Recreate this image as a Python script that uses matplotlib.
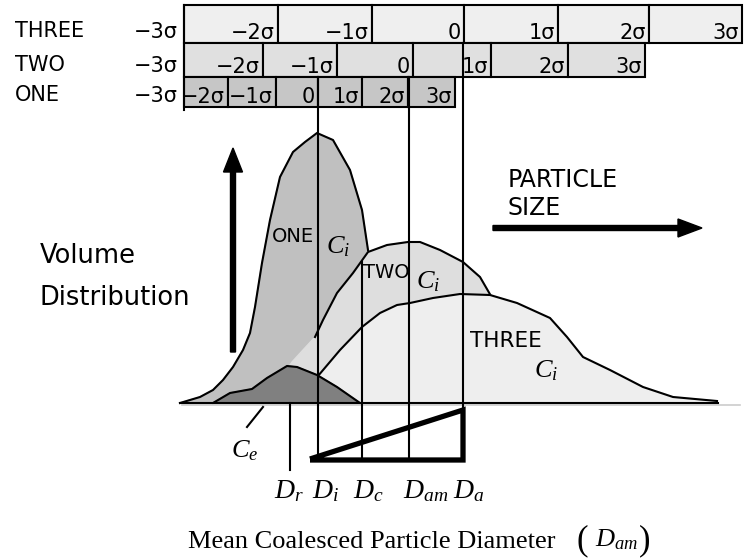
import numpy as np
import matplotlib
matplotlib.use("Agg")
import matplotlib.pyplot as plt

plt.rcParams['font.family'] = ['DejaVu Sans']
plt.rcParams['mathtext.fontset'] = 'custom'
plt.rcParams['mathtext.rm'] = 'Liberation Serif'
plt.rcParams['mathtext.it'] = 'Liberation Serif:italic'

# sigma scales, one row per distribution (cell edges run -3s .. 3s)
row_names = ['THREE', 'TWO', 'ONE']
row_edges = [
    [184, 278, 372, 464, 558, 649, 742],
    [184, 263, 337, 413, 491, 568, 645],
    [184, 228, 276, 318, 362, 408, 455],
]
row_top = [5, 43, 77]
row_bottom = [43, 77, 107]
row_colors = ['#efefef', '#e0e0e0', '#c6c6c6']
sigma_labels = ['\u22122\u03c3', '\u22121\u03c3', '0', '1\u03c3', '2\u03c3', '3\u03c3']

# volume distribution curves (diagram units, y grows downward)
base_y = 403
one_x = [180, 200, 213, 223, 233, 243, 250, 255, 262, 270, 280, 293, 305, 317,
         333, 350, 362, 368, 378, 388, 398]
one_y = [403, 397, 390, 380, 367, 350, 333, 307, 263, 220, 177, 152, 142, 133,
         140, 170, 210, 250, 300, 360, 403]
two_x = [262, 280, 292, 303, 315, 323, 337, 353, 368, 387, 408, 420, 440, 463,
         480, 491, 505, 515]
two_y = [403, 380, 362, 350, 337, 320, 293, 273, 252, 245, 242, 242, 250, 262,
         277, 296, 340, 403]
three_x = [317, 318, 340, 362, 380, 397, 410, 433, 460, 490, 517, 550, 567, 583,
           610, 643, 673, 717]
three_y = [403, 376, 350, 327, 313, 305, 303, 298, 294, 295, 303, 318, 337, 357,
           370, 387, 397, 401]
ce_x = [213, 230, 252, 267, 287, 297, 317, 337, 360]
ce_y = [403, 393, 389, 378, 366, 367, 375, 387, 403]

# characteristic diameters
d_labels = [r'$D_r$', r'$D_i$', r'$D_c$', r'$D_{am}$', r'$D_a$']
d_x = [290, 318, 362, 409, 463]
d_top = [403, 77, 262, 77, 43]
d_bottom = [470, 460, 460, 460, 460]
d_text_x = [274, 312, 353, 403, 453]

fig = plt.figure(figsize=(7.48, 5.6), dpi=100)
ax = fig.add_axes([0, 0, 1, 1])
ax.set_xlim(0, 748)
ax.set_ylim(560, 0)
ax.axis('off')

# sigma scale boxes
for name, edges, top, bot, col in zip(row_names, row_edges, row_top, row_bottom, row_colors):
    edges = np.array(edges)
    ax.barh((top + bot) / 2, np.diff(edges), left=edges[:-1], height=bot - top,
            color=col, edgecolor='black', linewidth=1.5, zorder=2)
    base = bot - 4
    ax.text(15, base - 2, name, fontsize=15, va='baseline', ha='left')
    ax.text(edges[0] - 6, base - 1, '\u22123\u03c3', fontsize=15, va='baseline', ha='right')
    for x_r, lab in zip(edges[1:], sigma_labels):
        ax.text(x_r - 3, base, lab, fontsize=15, va='baseline', ha='right', zorder=3)
ax.plot([184, 184], [5, 110], color='black', lw=1.5, zorder=3)

# curves: fill down to the base line, then the outline on top
ax.fill(one_x, one_y, color='#c0c0c0', zorder=3)
ax.plot(one_x[:18], one_y[:18], color='black', lw=1.5, zorder=3)
ax.fill(two_x, two_y, color='#dedede', zorder=4)
ax.plot(two_x[4:16], two_y[4:16], color='black', lw=1.5, zorder=4)
ax.fill(three_x, three_y, color='#eeeeee', zorder=5)
ax.plot(three_x[1:], three_y[1:], color='black', lw=1.5, zorder=5)
ax.fill(ce_x, ce_y, color='#808080', zorder=6)
ax.plot(ce_x, ce_y, color='black', lw=1.5, zorder=6)

ax.plot([182, 740], [base_y + 2, base_y + 2], color='#cccccc', lw=1.2, zorder=6)
ax.plot([180, 718], [base_y, base_y], color='black', lw=1.5, zorder=7)

# diameter markers
for x, t, b in zip(d_x, d_top, d_bottom):
    ax.plot([x, x], [t, b], color='black', lw=1.5, zorder=8)
for x, lab in zip(d_text_x, d_labels):
    ax.text(x, 498, lab, fontsize=20, va='baseline', ha='left')

# wedge between D_i and D_a
ax.plot([310, 463, 463, 310], [459, 410, 460, 460], color='black', lw=3.8,
        solid_joinstyle='miter', solid_capstyle='butt', zorder=9)

# C_e leader
ax.plot([263, 247], [407, 427], color='black', lw=1.5, zorder=8)
ax.text(231, 457, r'$C_e$', fontsize=19, va='baseline', ha='left')

# curve labels
ax.text(272, 242, 'ONE', fontsize=14, va='baseline', ha='left', zorder=10)
ax.text(326, 253, r'$C_i$', fontsize=19, va='baseline', ha='left', zorder=10)
ax.text(363, 278, 'TWO', fontsize=14, va='baseline', ha='left', zorder=10)
ax.text(416, 288, r'$C_i$', fontsize=19, va='baseline', ha='left', zorder=10)
ax.text(470, 347, 'THREE', fontsize=15.5, va='baseline', ha='left', zorder=10)
ax.text(534, 377, r'$C_i$', fontsize=19, va='baseline', ha='left', zorder=10)

# axis arrows and captions
ax.arrow(233, 352, 0, -204, width=5, head_width=19, head_length=24,
         length_includes_head=True, color='black', zorder=10)
ax.arrow(493, 228, 209, 0, width=5, head_width=18, head_length=24,
         length_includes_head=True, color='black', zorder=10)
ax.text(40, 263, 'Volume', fontsize=18.5, va='baseline', ha='left')
ax.text(40, 305, 'Distribution', fontsize=18.5, va='baseline', ha='left')
ax.text(508, 187, 'PARTICLE', fontsize=17, va='baseline', ha='left')
ax.text(508, 215, 'SIZE', fontsize=17, va='baseline', ha='left')

# x caption with tall brackets round the symbol
ax.text(188, 548, 'Mean Coalesced Particle Diameter', fontsize=19,
        family='Liberation Serif', va='baseline', ha='left')
ax.text(577, 549, '(', fontsize=25, family='Liberation Serif', va='baseline', ha='left')
ax.text(595, 546, r'$D_{am}$', fontsize=19, va='baseline', ha='left')
ax.text(639, 549, ')', fontsize=25, family='Liberation Serif', va='baseline', ha='left')

fig.savefig('out.png', dpi=100)
